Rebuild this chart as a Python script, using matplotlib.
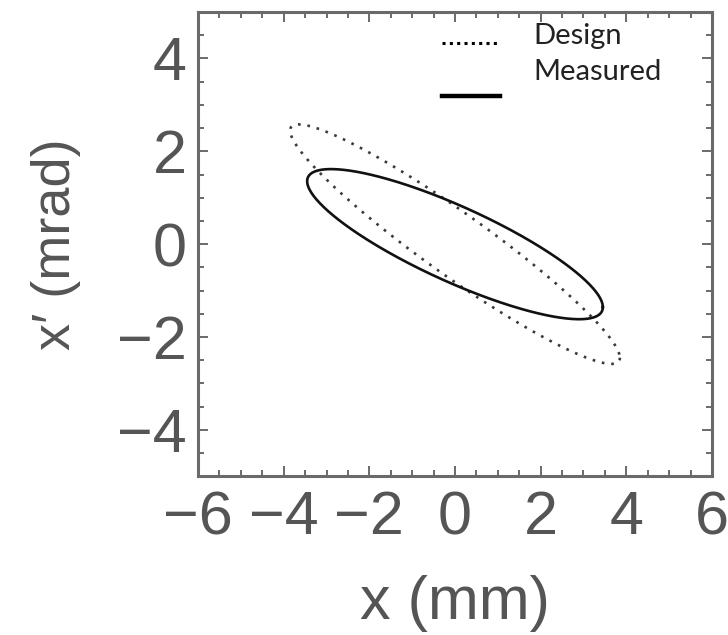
# -*- coding: utf-8 -*-
""" Phase space ellipses: design vs measured """
import numpy as np
import matplotlib.pyplot as plt
from matplotlib.ticker import MultipleLocator
from matplotlib.lines import Line2D

# -----------------------------------------------------------------------------
# Twiss parameters (emittance in mm mrad, beta in mm/mrad)
# -----------------------------------------------------------------------------
labels = ['Design', 'Measured']
emittance = [3.16, 3.04]
alpha = [2.98, 1.54]
beta = [4.69, 3.92]
styles = [(0, (1, 2.6)), '-']
colors = ['#3a3a3a', '#111111']
widths = [1.9, 1.9]

x_ticks = [-6, -4, -2, 0, 2, 4, 6]
y_ticks = [-4, -2, 0, 2, 4]

TICK_COLOR = '#555555'
FRAME_COLOR = '#6a6a6a'


def ellipse(eps, a, b, n=400):
    """ Points on the Twiss ellipse gamma x^2 + 2 alpha x x' + beta x'^2 = eps """
    t = np.linspace(0, 2 * np.pi, n)
    x = np.sqrt(eps * b) * np.cos(t)
    xp = -np.sqrt(eps / b) * (a * np.cos(t) + np.sin(t))
    return x, xp


fig = plt.figure(figsize=(7.28, 6.35), dpi=100)
ax = fig.add_axes([0.272, 0.250, 0.706, 0.731])

for eps, a, b, ls, c, lw in zip(emittance, alpha, beta, styles, colors, widths):
    x, xp = ellipse(eps, a, b)
    ax.plot(x, xp, linestyle=ls, color=c, lw=lw)

ax.set_xlim(-6, 6)
ax.set_ylim(-5, 5)
ax.set_xticks(x_ticks)
ax.set_yticks(y_ticks)
ax.xaxis.set_minor_locator(MultipleLocator(0.5))
ax.yaxis.set_minor_locator(MultipleLocator(0.5))
ax.set_xticklabels([('\u2212%d' % -v) if v < 0 else str(v) for v in x_ticks])
ax.set_yticklabels([('\u2212%d' % -v) if v < 0 else str(v) for v in y_ticks])

for side in ax.spines.values():
    side.set_color(FRAME_COLOR)
    side.set_linewidth(2.2)

ax.tick_params(which='both', direction='in', top=True, right=True,
               color=FRAME_COLOR, width=1.4)
ax.tick_params(which='major', length=7, labelsize=44, labelcolor=TICK_COLOR,
               pad=8)
ax.tick_params(axis='x', which='major', pad=10)
ax.tick_params(which='minor', length=4)
for lab in ax.get_xticklabels() + ax.get_yticklabels():
    lab.set_family('Liberation Sans')

ax.set_xlabel('x (mm)', fontsize=44, color=TICK_COLOR,
              family='Liberation Sans', labelpad=20)
ax.set_ylabel('x\u2032 (mrad)', fontsize=39, color=TICK_COLOR,
              family='Liberation Sans', labelpad=26)

# legend keys with the labels set off to the right
key_y = [0.933, 0.819]
text_y = [0.948, 0.871]
key_styles = [(0, (1, 1.4)), '-']
for lab, ls, ky, ty, lw in zip(labels, key_styles, key_y, text_y, [2.2, 3.2]):
    ax.add_line(Line2D([0.475, 0.588], [ky, ky], transform=ax.transAxes,
                       linestyle=ls, color='black', lw=lw))
    ax.text(0.652, ty, lab, transform=ax.transAxes, fontsize=21,
            family='Lato', color='#222222', va='center', ha='left')

fig.savefig('out.png', dpi=100)
